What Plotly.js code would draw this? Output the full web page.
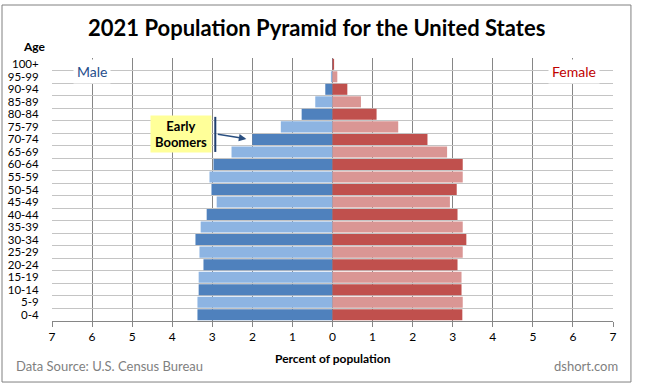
<!DOCTYPE html>
<html>
<head>
<meta charset="utf-8">
<script src="https://cdn.plot.ly/plotly-3.0.1.min.js"></script>
<style>html,body{margin:0;padding:0;background:#fff;}#chart{width:645px;height:390px;}</style>
</head>
<body>
<div id="chart"></div>
<script>
// Age groups, bottom to top
const ageGroups = ["0-4","5-9","10-14","15-19","20-24","25-29","30-34","35-39","40-44","45-49","50-54","55-59","60-64","65-69","70-74","75-79","80-84","85-89","90-94","95-99","100+"];
// Percent of population
const malePct   = [3.37,3.37,3.34,3.34,3.22,3.32,3.42,3.29,3.14,2.89,3.02,3.07,2.97,2.52,2.00,1.29,0.77,0.43,0.18,0.04,0.01];
const femalePct = [3.24,3.25,3.22,3.22,3.12,3.25,3.34,3.25,3.12,2.93,3.10,3.25,3.25,2.86,2.37,1.64,1.10,0.71,0.37,0.12,0.04];
const xTicks = [-7,-6,-5,-4,-3,-2,-1,0,1,2,3,4,5,6,7];

const idx = ageGroups.map((_, i) => i);
const maleColors = idx.map(i => i % 2 === 0 ? "#4F81BD" : "#8DB4E2");
const femaleColors = idx.map(i => i % 2 === 0 ? "#C0504D" : "#DA9694");

const traces = [
  {type:"bar", orientation:"h", name:"Male", y: idx, x: malePct.map(v => -v),
   marker:{color: maleColors, line:{width:0}}, hoverinfo:"skip"},
  {type:"bar", orientation:"h", name:"Female", y: idx, x: femalePct,
   marker:{color: femaleColors, line:{width:0}}, hoverinfo:"skip"},
  // invisible trace to activate boundary grid axis
  {type:"scatter", mode:"markers", x:[0], y:[0], yaxis:"y2", marker:{opacity:0}, hoverinfo:"skip", showlegend:false}
];

const n = ageGroups.length;
const boundaries = [];
for (let i = 0; i <= n; i++) boundaries.push(i - 0.5);

const layout = {
  width: 645, height: 390,
  margin: {l: 52, r: 32, t: 58, b: 69},
  paper_bgcolor: "#fff", plot_bgcolor: "#fff",
  font: {family: "Lato, 'Open Sans', sans-serif", size: 12, color: "#000"},
  showlegend: false,
  barmode: "relative",
  bargap: 0.12,
  title: {text: "<b>2021 Population Pyramid for the United States</b>", x: 0.491, xanchor: "center", y: 0.928, yanchor: "middle",
          font: {size: 22, color: "#000", family: "Lato, sans-serif"}},
  xaxis: {range: [-7, 7], tickvals: xTicks, ticktext: xTicks.map(v => String(Math.abs(v))),
          showgrid: true, gridcolor: "#868686", gridwidth: 1, zeroline: false,
          showline: true, linecolor: "#868686", linewidth: 1,
          ticks: "outside", ticklen: 5, tickcolor: "#868686",
          tickfont: {size: 12, color: "#000"}, fixedrange: true},
  yaxis: {range: [-0.5, n - 0.5], tickvals: idx, ticktext: ageGroups, showgrid: false, zeroline: false,
          ticks: "outside", ticklen: 10, tickcolor: "rgba(0,0,0,0)", showline: false,
          tickfont: {size: 11.5, color: "#000"}, fixedrange: true},
  yaxis2: {overlaying: "y", range: [-0.5, n - 0.5], tickvals: boundaries, showticklabels: false,
           showgrid: true, gridcolor: "#C4C4C4", gridwidth: 1, zeroline: false, side: "right", ticks: "", fixedrange: true},
  shapes: [
    {type: "rect", xref: "paper", yref: "paper", x0: -0.0891, x1: 1.032, y0: -0.232, y1: 1.2015,
     line: {color: "#808080", width: 1}, fillcolor: "rgba(0,0,0,0)", layer: "below"},
    {type: "line", xref: "x", yref: "y", x0: -2.925, x1: -2.925, y0: 13.0, y1: 15.8,
     line: {color: "#1F3F6E", width: 2}}
  ],
  annotations: [
    {text: "<b>Age</b>", xref: "paper", yref: "paper", x: -0.032, y: 1.042, xanchor: "center", yanchor: "middle",
     showarrow: false, font: {size: 12, color: "#000"}},
    {text: "Male", xref: "x", yref: "y", x: -6.0, y: 19.4, xanchor: "center", yanchor: "middle",
     showarrow: false, bgcolor: "#fff", borderpad: 3, font: {size: 14, color: "#1F4E8C"}},
    {text: "Female", xref: "x", yref: "y", x: 6.02, y: 19.4, xanchor: "center", yanchor: "middle",
     showarrow: false, bgcolor: "#fff", borderpad: 3, font: {size: 14, color: "#C00000"}},
    {text: "<b>Early<br>Boomers</b>", xref: "x", yref: "y", x: -3.77, y: 14.4, xanchor: "center", yanchor: "middle",
     showarrow: false, bgcolor: "#FFFF99", width: 58, height: 34, borderpad: 1, font: {size: 13, color: "#000"}},
    {text: "", xref: "x", yref: "y", x: -2.15, y: 14.04, axref: "x", ayref: "y", ax: -2.9, ay: 14.44,
     showarrow: true, arrowhead: 2, arrowsize: 1, arrowwidth: 1.5, arrowcolor: "#2A4F80", standoff: 0},
    {text: "<b>Percent of population</b>", xref: "paper", yref: "paper", x: 0.5, y: -0.1407, xanchor: "center", yanchor: "middle",
     showarrow: false, font: {size: 12, color: "#000"}},
    {text: "Data Source: U.S. Census Bureau", xref: "paper", yref: "paper", x: -0.0677, y: -0.171, xanchor: "left", yanchor: "middle",
     showarrow: false, font: {size: 13, color: "#7F7F7F"}},
    {text: "dshort.com", xref: "paper", yref: "paper", x: 1.0125, y: -0.171, xanchor: "right", yanchor: "middle",
     showarrow: false, font: {size: 13, color: "#7F7F7F"}}
  ]
};

Plotly.newPlot("chart", traces, layout, {displayModeBar: false, staticPlot: true});
</script>
</body>
</html>
